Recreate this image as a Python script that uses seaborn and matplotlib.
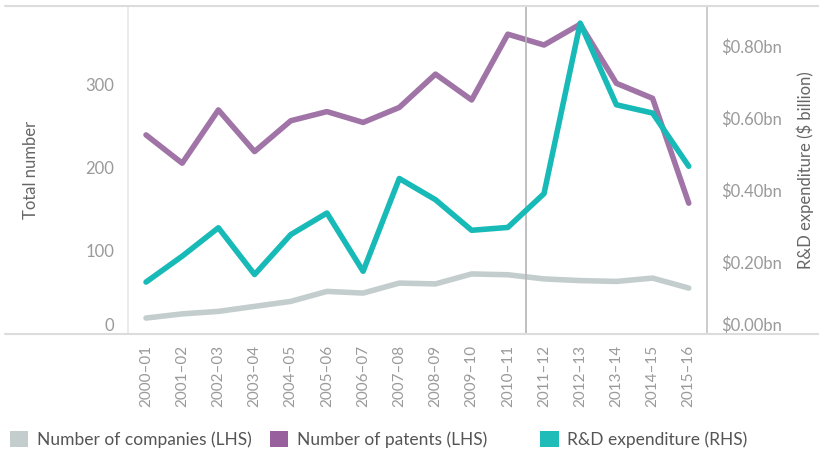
import pandas as pd
import seaborn as sns
import matplotlib.pyplot as plt
from matplotlib.lines import Line2D
from matplotlib.patches import Patch
from matplotlib.ticker import FuncFormatter

periods = ["2000–01", "2001–02", "2002–03", "2003–04", "2004–05", "2005–06",
           "2006–07", "2007–08", "2008–09", "2009–10", "2010–11", "2011–12",
           "2012–13", "2013–14", "2014–15", "2015–16"]
companies = [19, 24, 27, 33, 39, 51, 49, 61, 60, 72, 71, 66, 64, 63, 67, 55]
patents = [239, 205, 269, 219, 256, 267, 254, 272, 312, 281, 360, 347, 372, 301, 283, 157]
rd_spend = [0.144, 0.216, 0.295, 0.165, 0.276, 0.336, 0.174, 0.432, 0.373, 0.288,
            0.296, 0.390, 0.864, 0.637, 0.614, 0.466]

c_grey = "#c4cdcd"
c_purple = "#a074a6"
c_teal = "#18bab7"
txt_grey = "#9a9a9a"
lbl_grey = "#666666"

df = pd.DataFrame({"period": periods, "companies": companies,
                   "patents": patents, "rd": rd_spend})

sns.set_theme(style="white")
plt.rcParams["font.family"] = ["Lato", "DejaVu Sans"]

fig, ax = plt.subplots(figsize=(8.2, 4.53), dpi=100)
fig.subplots_adjust(left=0.156, right=0.862, top=0.987, bottom=0.263)

sns.lineplot(ax=ax, data=df, x="period", y="companies", color=c_grey, lw=4, sort=False)
sns.lineplot(ax=ax, data=df, x="period", y="patents", color=c_purple, lw=4, sort=False)
ax.set_xlim(-0.5, 15.5)
ax.set_ylim(0, 394)
ax.set_yticks([0, 100, 200, 300])
ax.axvline(10.5, color="#b5b5b5", lw=1.2)

ax2 = ax.twinx()
sns.lineplot(ax=ax2, data=df, x="period", y="rd", color=c_teal, lw=4, sort=False)
ax2.set_ylim(0, 0.912)
ax2.set_yticks([0, 0.2, 0.4, 0.6, 0.8])
ax2.yaxis.set_major_formatter(FuncFormatter(lambda v, p: f"\\${v:.2f}bn"))

ax.set_xlabel("")
ax.set_ylabel("Total number", color=lbl_grey, fontsize=12, labelpad=33)
ax2.set_ylabel("R&D expenditure (\\$ billion)", color=lbl_grey, fontsize=12, labelpad=11)

ax.tick_params(axis="x", labelrotation=90, labelsize=11, labelcolor=txt_grey, length=0, pad=8)
ax.tick_params(axis="y", labelsize=12, labelcolor=txt_grey, length=0, pad=10)
ax2.tick_params(axis="y", labelsize=12, labelcolor=txt_grey, length=0, pad=10)

# the zero labels sit a little above the baseline in the original
ax.get_yticklabels()[0].set_verticalalignment("bottom")
ax2.get_yticklabels()[0].set_verticalalignment("bottom")

for a in (ax, ax2):
    for s in a.spines.values():
        s.set_visible(False)
ax.spines["left"].set_visible(True)
ax.spines["left"].set_color("#e8e8e8")
ax2.spines["right"].set_visible(True)
ax2.spines["right"].set_color("#c4c4c4")
ax2.spines["right"].set_linewidth(1.2)

# frame lines running across the whole image
for yy in (0.987, 0.263):
    fig.add_artist(Line2D([0.006, 1.0], [yy, yy], transform=fig.transFigure,
                          color="#dcdcdc", lw=1.5))

legend_items = [("Number of companies (LHS)", c_grey, 0.012),
                ("Number of patents (LHS)", "#98609d", 0.329),
                ("R&D expenditure (RHS)", "#1fbcb8", 0.659)]
for label, col, xpos in legend_items:
    fig.legend(handles=[Patch(facecolor=col, edgecolor="none", label=label)],
               loc="center left", bbox_to_anchor=(xpos, 0.03), frameon=False,
               handlelength=1.05, handleheight=1.05, handletextpad=0.5,
               borderpad=0, borderaxespad=0, fontsize=12.5, labelcolor="#555555")

fig.savefig("out.png", dpi=100)
